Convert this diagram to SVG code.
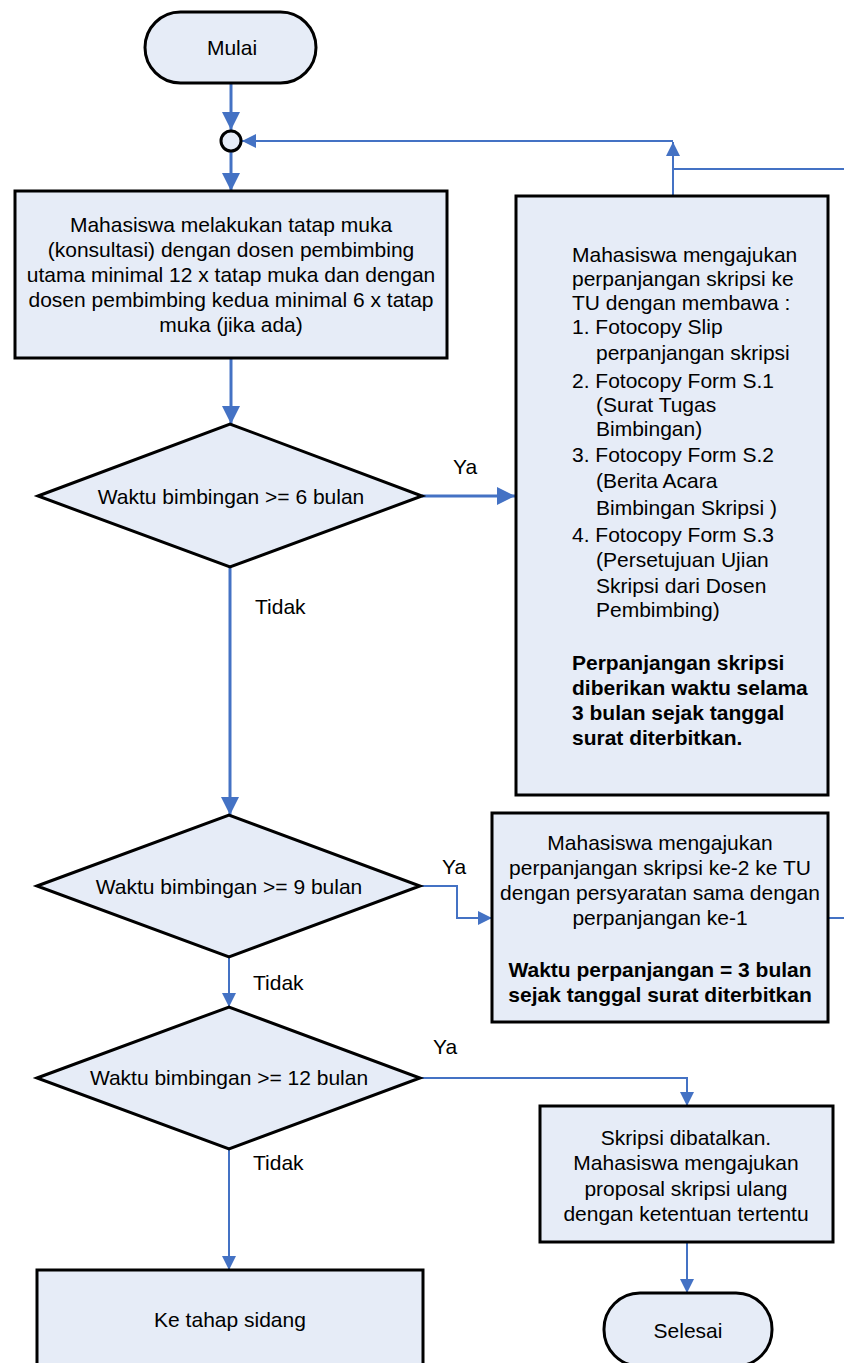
<svg xmlns="http://www.w3.org/2000/svg" width="844" height="1363" viewBox="0 0 844 1363">
<defs>
<style>
.s{fill:#E6ECF7;stroke:#000;stroke-width:3}
.t{font-family:"Liberation Sans",Arial,sans-serif;font-size:21px;fill:#000}
.m{text-anchor:middle}
.b{font-weight:bold}
.c{fill:none;stroke:#4472C4}
.k{stroke-width:3}
.n{stroke-width:2}
</style>
<marker id="ab" viewBox="0 0 18 18" refX="18" refY="9" markerWidth="18" markerHeight="18" markerUnits="userSpaceOnUse" orient="auto"><path d="M0,0 L18,9 L0,18 z" fill="#4472C4"/></marker>
<marker id="as" viewBox="0 0 14 14" refX="14" refY="7" markerWidth="14" markerHeight="14" markerUnits="userSpaceOnUse" orient="auto"><path d="M0,0 L14,7 L0,14 z" fill="#4472C4"/></marker>
</defs>
<rect width="844" height="1363" fill="#fff"/>

<g id="connectors">
<path class="c k" d="M231,83 V130" marker-end="url(#ab)"/>
<path class="c k" d="M231,151 V191" marker-end="url(#ab)"/>
<path class="c k" d="M231,358 V424" marker-end="url(#ab)"/>
<path class="c k" d="M422,496 H515" marker-end="url(#ab)"/>
<path class="c k" d="M230,567 V815" marker-end="url(#ab)"/>
<path class="c n" d="M673,196 V142" marker-end="url(#as)"/>
<path class="c n" d="M673,141 H242" marker-end="url(#as)"/>
<path class="c n" d="M828,918 H862 V169 H673"/>
<path class="c n" d="M420,886 H457 V918 H492" marker-end="url(#as)"/>
<path class="c n" d="M229,957 V1007" marker-end="url(#as)"/>
<path class="c n" d="M420,1078 H687 V1106" marker-end="url(#as)"/>
<path class="c n" d="M229,1149 V1270" marker-end="url(#as)"/>
<path class="c n" d="M687,1242 V1293" marker-end="url(#as)"/>
<text class="t" x="453" y="474">Ya</text>
<text class="t" x="255" y="614">Tidak</text>
<text class="t" x="442" y="874">Ya</text>
<text class="t" x="253" y="990">Tidak</text>
<text class="t" x="433" y="1054">Ya</text>
<text class="t" x="253" y="1170">Tidak</text>
</g>

<g id="start">
<rect class="s" x="145" y="12" width="171" height="71" rx="35.5"/>
<text class="t m" x="232" y="55">Mulai</text>
</g>

<g id="merge">
<circle class="s" cx="231" cy="141" r="10"/>
</g>

<g id="box1">
<rect class="s" x="15" y="191" width="432" height="167"/>
<text class="t m" x="231" y="232">Mahasiswa melakukan tatap muka</text>
<text class="t m" x="231" y="257">(konsultasi) dengan dosen pembimbing</text>
<text class="t m" x="231" y="282">utama minimal 12 x tatap muka dan dengan</text>
<text class="t m" x="231" y="307">dosen pembimbing kedua minimal 6 x tatap</text>
<text class="t m" x="231" y="332">muka (jika ada)</text>
</g>

<g id="decision1">
<polygon class="s" points="38,496 230,424 422,496 230,567"/>
<text class="t m" x="231" y="504">Waktu bimbingan &gt;= 6 bulan</text>
</g>

<g id="extension1">
<rect class="s" x="516" y="196" width="312" height="599"/>
<text class="t" x="572" y="262">Mahasiswa mengajukan</text>
<text class="t" x="572" y="286">perpanjangan skripsi ke</text>
<text class="t" x="572" y="310">TU dengan membawa :</text>
<text class="t" x="572" y="334">1. Fotocopy Slip</text>
<text class="t" x="596" y="360">perpanjangan skripsi</text>
<text class="t" x="572" y="388">2. Fotocopy Form S.1</text>
<text class="t" x="596" y="412">(Surat Tugas</text>
<text class="t" x="596" y="436">Bimbingan)</text>
<text class="t" x="572" y="462">3. Fotocopy Form S.2</text>
<text class="t" x="596" y="488">(Berita Acara</text>
<text class="t" x="596" y="515">Bimbingan Skripsi )</text>
<text class="t" x="572" y="542">4. Fotocopy Form S.3</text>
<text class="t" x="596" y="567">(Persetujuan Ujian</text>
<text class="t" x="596" y="593">Skripsi dari Dosen</text>
<text class="t" x="596" y="617">Pembimbing)</text>
<text class="t b" x="572" y="670">Perpanjangan skripsi</text>
<text class="t b" x="572" y="695">diberikan waktu selama</text>
<text class="t b" x="572" y="720">3 bulan sejak tanggal</text>
<text class="t b" x="572" y="745">surat diterbitkan.</text>
</g>

<g id="decision2">
<polygon class="s" points="37,886 229,815 420,886 229,957"/>
<text class="t m" x="229" y="894">Waktu bimbingan &gt;= 9 bulan</text>
</g>

<g id="extension2">
<rect class="s" x="492" y="813" width="336" height="209"/>
<text class="t m" x="660" y="850">Mahasiswa mengajukan</text>
<text class="t m" x="660" y="875">perpanjangan skripsi ke-2 ke TU</text>
<text class="t m" x="660" y="900">dengan persyaratan sama dengan</text>
<text class="t m" x="660" y="925">perpanjangan ke-1</text>
<text class="t m b" x="660" y="977">Waktu perpanjangan = 3 bulan</text>
<text class="t m b" x="660" y="1002">sejak tanggal surat diterbitkan</text>
</g>

<g id="decision3">
<polygon class="s" points="37,1078 229,1007 420,1078 229,1149"/>
<text class="t m" x="229" y="1085">Waktu bimbingan &gt;= 12 bulan</text>
</g>

<g id="cancel">
<rect class="s" x="540" y="1106" width="293" height="136"/>
<text class="t m" x="686" y="1145">Skripsi dibatalkan.</text>
<text class="t m" x="686" y="1170">Mahasiswa mengajukan</text>
<text class="t m" x="686" y="1196">proposal skripsi ulang</text>
<text class="t m" x="686" y="1221">dengan ketentuan tertentu</text>
</g>

<g id="sidang">
<rect class="s" x="37" y="1270" width="386" height="110"/>
<text class="t m" x="230" y="1327">Ke tahap sidang</text>
</g>

<g id="end">
<rect class="s" x="604" y="1293" width="168" height="73" rx="36"/>
<text class="t m" x="688" y="1338">Selesai</text>
</g>
</svg>
